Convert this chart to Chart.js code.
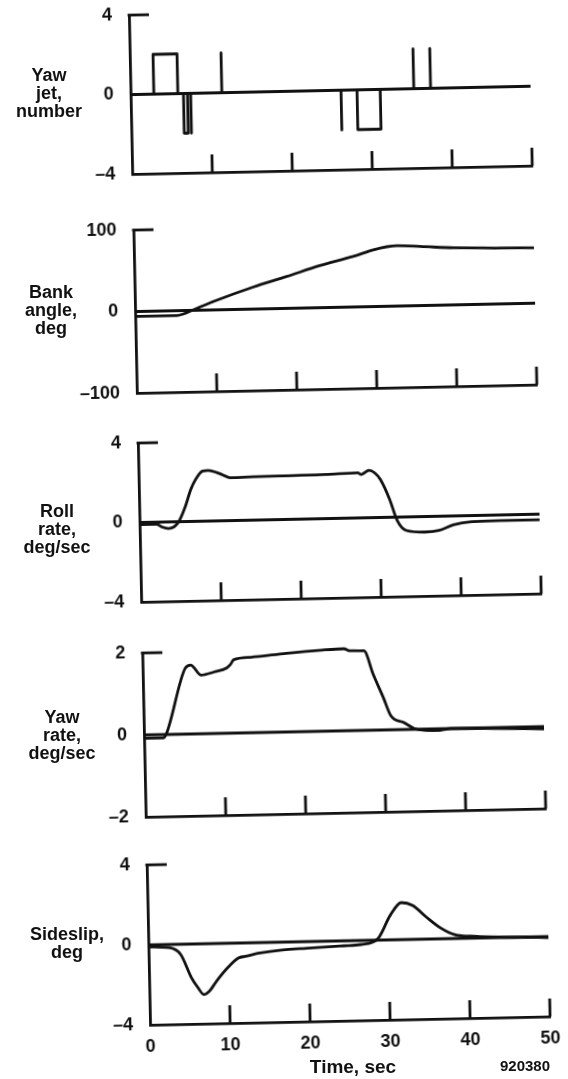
<!DOCTYPE html>
<html>
<head>
<meta charset="utf-8">
<script src="https://cdn.jsdelivr.net/npm/chart.js"></script>
<style>
  html, body { margin: 0; padding: 0; background: #fff; }
  body { width: 568px; height: 1079px; position: relative; overflow: hidden;
         font-family: "Liberation Sans", Arial, sans-serif; color: #111; }
  /* the scanned figure sits slightly rotated on the page */
  #sheet { position: absolute; left: 0; top: 0; width: 568px; height: 1079px;
           transform: rotate(-1.2deg); transform-origin: 284px 539.5px; }
  #sheet canvas { position: absolute; left: 0; }
  .lbl { position: absolute; font-weight: bold; font-size: 18px; line-height: 18px;
         text-align: center; white-space: nowrap; transform: translate(-50%, -50%); }
</style>
</head>
<body>
<div id="sheet">
  <canvas id="p1"></canvas>
  <canvas id="p2"></canvas>
  <canvas id="p3"></canvas>
  <canvas id="p4"></canvas>
  <canvas id="p5"></canvas>
</div>

<div class="lbl" style="left:49px; top:93px;">Yaw<br>jet,<br>number</div>
<div class="lbl" style="left:51px; top:310px;">Bank<br>angle,<br>deg</div>
<div class="lbl" style="left:57px; top:529px;">Roll<br>rate,<br>deg/sec</div>
<div class="lbl" style="left:62px; top:735px;">Yaw<br>rate,<br>deg/sec</div>
<div class="lbl" style="left:67px; top:943px;">Sideslip,<br>deg</div>
<div class="lbl" style="left:353px; top:1067px; font-size:19px;">Time, sec</div>
<div class="lbl" style="left:525px; top:1066px; font-size:15px;">920380</div>

<script>
// time axis, seconds
const timeTicks = [0, 10, 20, 30, 40, 50];

// yaw jet firings (number of jets)
const yawJetTime  = [0, 2.9, 2.9, 5.9, 5.9, 6.6, 6.6, 7.1, 7.1, 7.5, 7.5, 7.5, 11.4, 11.4, 11.4,
                     26.3, 26.3, 26.3, 28.3, 28.3, 31.2, 31.2, 35.4, 35.4, 35.4, 37.5, 37.5, 37.5, 50];
const yawJetValue = [0, 0, 2, 2, 0, 0, -2, -2, 0, 0, -2, 0, 0, 2, 0,
                     0, -2, 0, 0, -2, -2, 0, 0, 2, 0, 0, 2, 0, 0];
const yawJetTicks = [-4, 0, 4];

// bank angle, deg
const bankTime  = [0, 5.2, 6.1, 7.1, 10, 14.8, 19, 23.2, 27.4, 29.9, 31.6, 32.9, 35.8, 40, 45.9, 50];
const bankValue = [-6, -6, -4, 0, 11, 27, 39, 51.6, 62, 69.5, 73, 74, 72.5, 70, 68.5, 68];
const bankTicks = [-100, 0, 100];

// roll rate, deg/sec
const rollTime  = [0, 2.1, 2.8, 3.6, 4.3, 4.9, 5.7, 6.5, 7.1, 8.0, 8.7, 10, 11.6, 14.3, 18.8,
                   23.3, 27.4, 27.8, 28.8, 29.5, 30.2, 31.3, 32.2, 33.3, 35.6, 37.4, 39.2, 41.5, 45, 50];
const rollValue = [-0.1, -0.1, -0.25, -0.33, -0.25, 0, 0.7, 1.63, 2.1, 2.52, 2.55, 2.4, 2.16, 2.18, 2.2,
                   2.22, 2.27, 2.18, 2.38, 2.25, 1.91, 0.91, -0.17, -0.68, -0.78, -0.71, -0.45, -0.31, -0.28, -0.28];
const rollTicks = [-4, 0, 4];

// yaw rate, deg/sec
const yawRateTime  = [0, 2.4, 2.8, 5.3, 6.0, 7.3, 8.9, 10.5, 11.0, 11.4, 13.5, 18, 22.5, 25.2, 25.9,
                      27.7, 28.8, 30, 30.9, 32.5, 33.8, 35, 36.6, 38.4, 50];
const yawRateValue = [-0.08, -0.08, 0.02, 1.6, 1.68, 1.43, 1.5, 1.59, 1.68, 1.79, 1.84, 1.92, 1.98, 2.0, 1.95,
                      1.94, 1.36, 0.79, 0.34, 0.17, 0.02, -0.03, -0.04, 0, -0.06];
const yawRateTicks = [-2, 0, 2];

// sideslip, deg
const betaTime  = [0, 2.6, 4.0, 5.3, 6.1, 6.8, 7.5, 8.4, 9.8, 11.2, 12.1, 13.9, 16.7, 19.8, 24.4,
                   26.6, 28.7, 30.3, 31.7, 33.1, 34.8, 36.6, 38.4, 40.2, 50];
const betaValue = [-0.1, -0.16, -0.51, -1.69, -2.2, -2.54, -2.38, -1.89, -1.24, -0.75, -0.67, -0.52, -0.39, -0.33, -0.25,
                   -0.2, 0.08, 1.23, 1.85, 1.7, 1.1, 0.53, 0.18, 0.1, -0.05];
const betaTicks = [-4, 0, 4];

const INK = '#111';
const LINE = 2.8;
const FONT = { family: '"Liberation Sans", Arial, sans-serif', size: 18, weight: 'bold' };
const PAD_TOP = 20;
const PLOT_LEFT = 140, PLOT_RIGHT = 540;
const TICK_LEN = 18;

// short stub at the top of the value axis and upright ticks on the time axis
const framePlugin = {
    id: 'frame',
    afterDatasetsDraw(chart) {
        const { ctx, chartArea } = chart;
        const xs = chart.scales.x, ys = chart.scales.y;
        ctx.save();
        ctx.strokeStyle = INK;
        ctx.lineWidth = LINE;
        const yTop = ys.getPixelForValue(ys.max);
        ctx.beginPath();
        ctx.moveTo(chartArea.left - LINE / 2, yTop);
        ctx.lineTo(xs.getPixelForValue(2.5), yTop);
        ctx.stroke();
        timeTicks.slice(1).forEach(t => {
            const x = xs.getPixelForValue(t);
            ctx.beginPath();
            ctx.moveTo(x, chartArea.bottom);
            ctx.lineTo(x, chartArea.bottom - TICK_LEN);
            ctx.stroke();
        });
        ctx.restore();
    }
};

function makePanel(id, times, values, yTicks, top, bottom, showTime, stepped) {
    const canvas = document.getElementById(id);
    const axisH = showTime ? 44 : 20;
    canvas.width = 568;
    canvas.height = (bottom - top) + PAD_TOP + axisH;
    canvas.style.top = (top - PAD_TOP) + 'px';

    new Chart(canvas, {
        type: 'line',
        data: {
            datasets: [{
                // zero reference line
                data: [{ x: timeTicks[0], y: 0 }, { x: timeTicks[timeTicks.length - 1], y: 0 }],
                borderColor: INK, borderWidth: LINE, pointRadius: 0, clip: 6
            }, {
                data: times.map((t, i) => ({ x: t, y: values[i] })),
                borderColor: INK, borderWidth: LINE, pointRadius: 0, clip: 6,
                borderJoinStyle: 'round',
                cubicInterpolationMode: stepped ? 'default' : 'monotone',
                tension: stepped ? 0 : 0.4
            }]
        },
        options: {
            responsive: false,
            animation: false,
            events: [],
            layout: { padding: { top: PAD_TOP, left: 0, right: 568 - PLOT_RIGHT, bottom: 0 } },
            plugins: { legend: { display: false }, tooltip: { enabled: false } },
            scales: {
                x: {
                    type: 'linear', min: 0, max: 50,
                    grid: { display: false },
                    border: { color: INK, width: LINE },
                    afterBuildTicks: s => { s.ticks = timeTicks.map(v => ({ value: v })); },
                    ticks: { display: showTime, color: INK, font: FONT, padding: 3, maxRotation: 0 },
                    afterFit: s => { s.height = axisH; }
                },
                y: {
                    min: yTicks[0], max: yTicks[yTicks.length - 1],
                    grid: { display: false },
                    border: { color: INK, width: LINE },
                    afterBuildTicks: s => { s.ticks = yTicks.map(v => ({ value: v })); },
                    ticks: {
                        color: INK, font: FONT, padding: 9,
                        callback: v => v < 0 ? '\u2013' + Math.abs(v) : String(v)
                    },
                    afterFit: s => { s.width = PLOT_LEFT; }
                }
            }
        },
        plugins: [framePlugin]
    });
}

makePanel('p1', yawJetTime, yawJetValue, yawJetTicks, 12, 171, false, true);
makePanel('p2', bankTime, bankValue, bankTicks, 227, 390, false, false);
makePanel('p3', rollTime, rollValue, rollTicks, 440, 599, false, false);
makePanel('p4', yawRateTime, yawRateValue, yawRateTicks, 650, 814, false, false);
makePanel('p5', betaTime, betaValue, betaTicks, 862, 1022, true, false);
</script>
</body>
</html>
